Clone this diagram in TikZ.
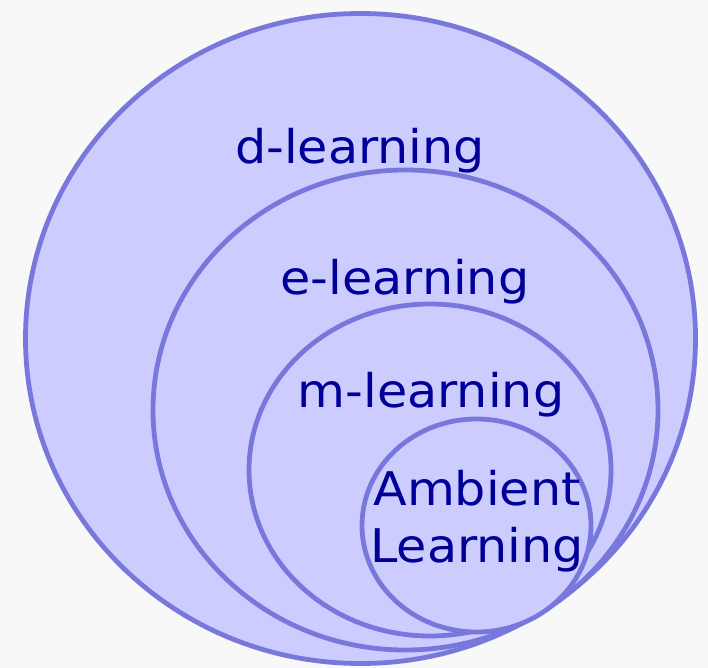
\documentclass[tikz,border=0pt]{standalone}
\usepackage{fontspec}
\setmainfont{DejaVu Sans}
\newfontfamily\ringfont[FakeStretch=1.06]{DejaVu Sans}
\definecolor{ringline}{HTML}{7878DC}
\definecolor{ringfill}{HTML}{CCCCFF}
\definecolor{labeltext}{HTML}{000099}
\definecolor{paper}{HTML}{F8F8F8}

\begin{document}
\begin{tikzpicture}[x=0.025cm, y=0.025cm]
\tikzstyle{every node}+=[inner sep=0pt]
\tikzset{
  ring/.style={draw=ringline, fill=ringfill, line width=3.4pt},
  ringlabel/.style={anchor=base, text=labeltext, font=\ringfont\fontsize{33}{41}\selectfont}
}

\fill [paper] (0,0) rectangle (708,-668);
\useasboundingbox (0,0) rectangle (708,-668);

\draw [ring] (360.5,-338.5) ellipse (335 and 325);
\draw (360,-164) node [ringlabel] (dlearn) {d-learning};

\draw [ring] (405.5,-410) ellipse (252.5 and 240);
\draw (405,-294) node [ringlabel] (elearn) {e-learning};

\draw [ring] (430,-470) ellipse (181 and 166);
\draw (431,-407) node [ringlabel] (mlearn) {m-learning};

\draw [ring] (476.5,-525.5) ellipse (114.5 and 106.5);
\draw (477,-505) node [ringlabel] (ambient) {Ambient};
\draw (477,-562) node [ringlabel] (alearn) {Learning};
\end{tikzpicture}
\end{document}
